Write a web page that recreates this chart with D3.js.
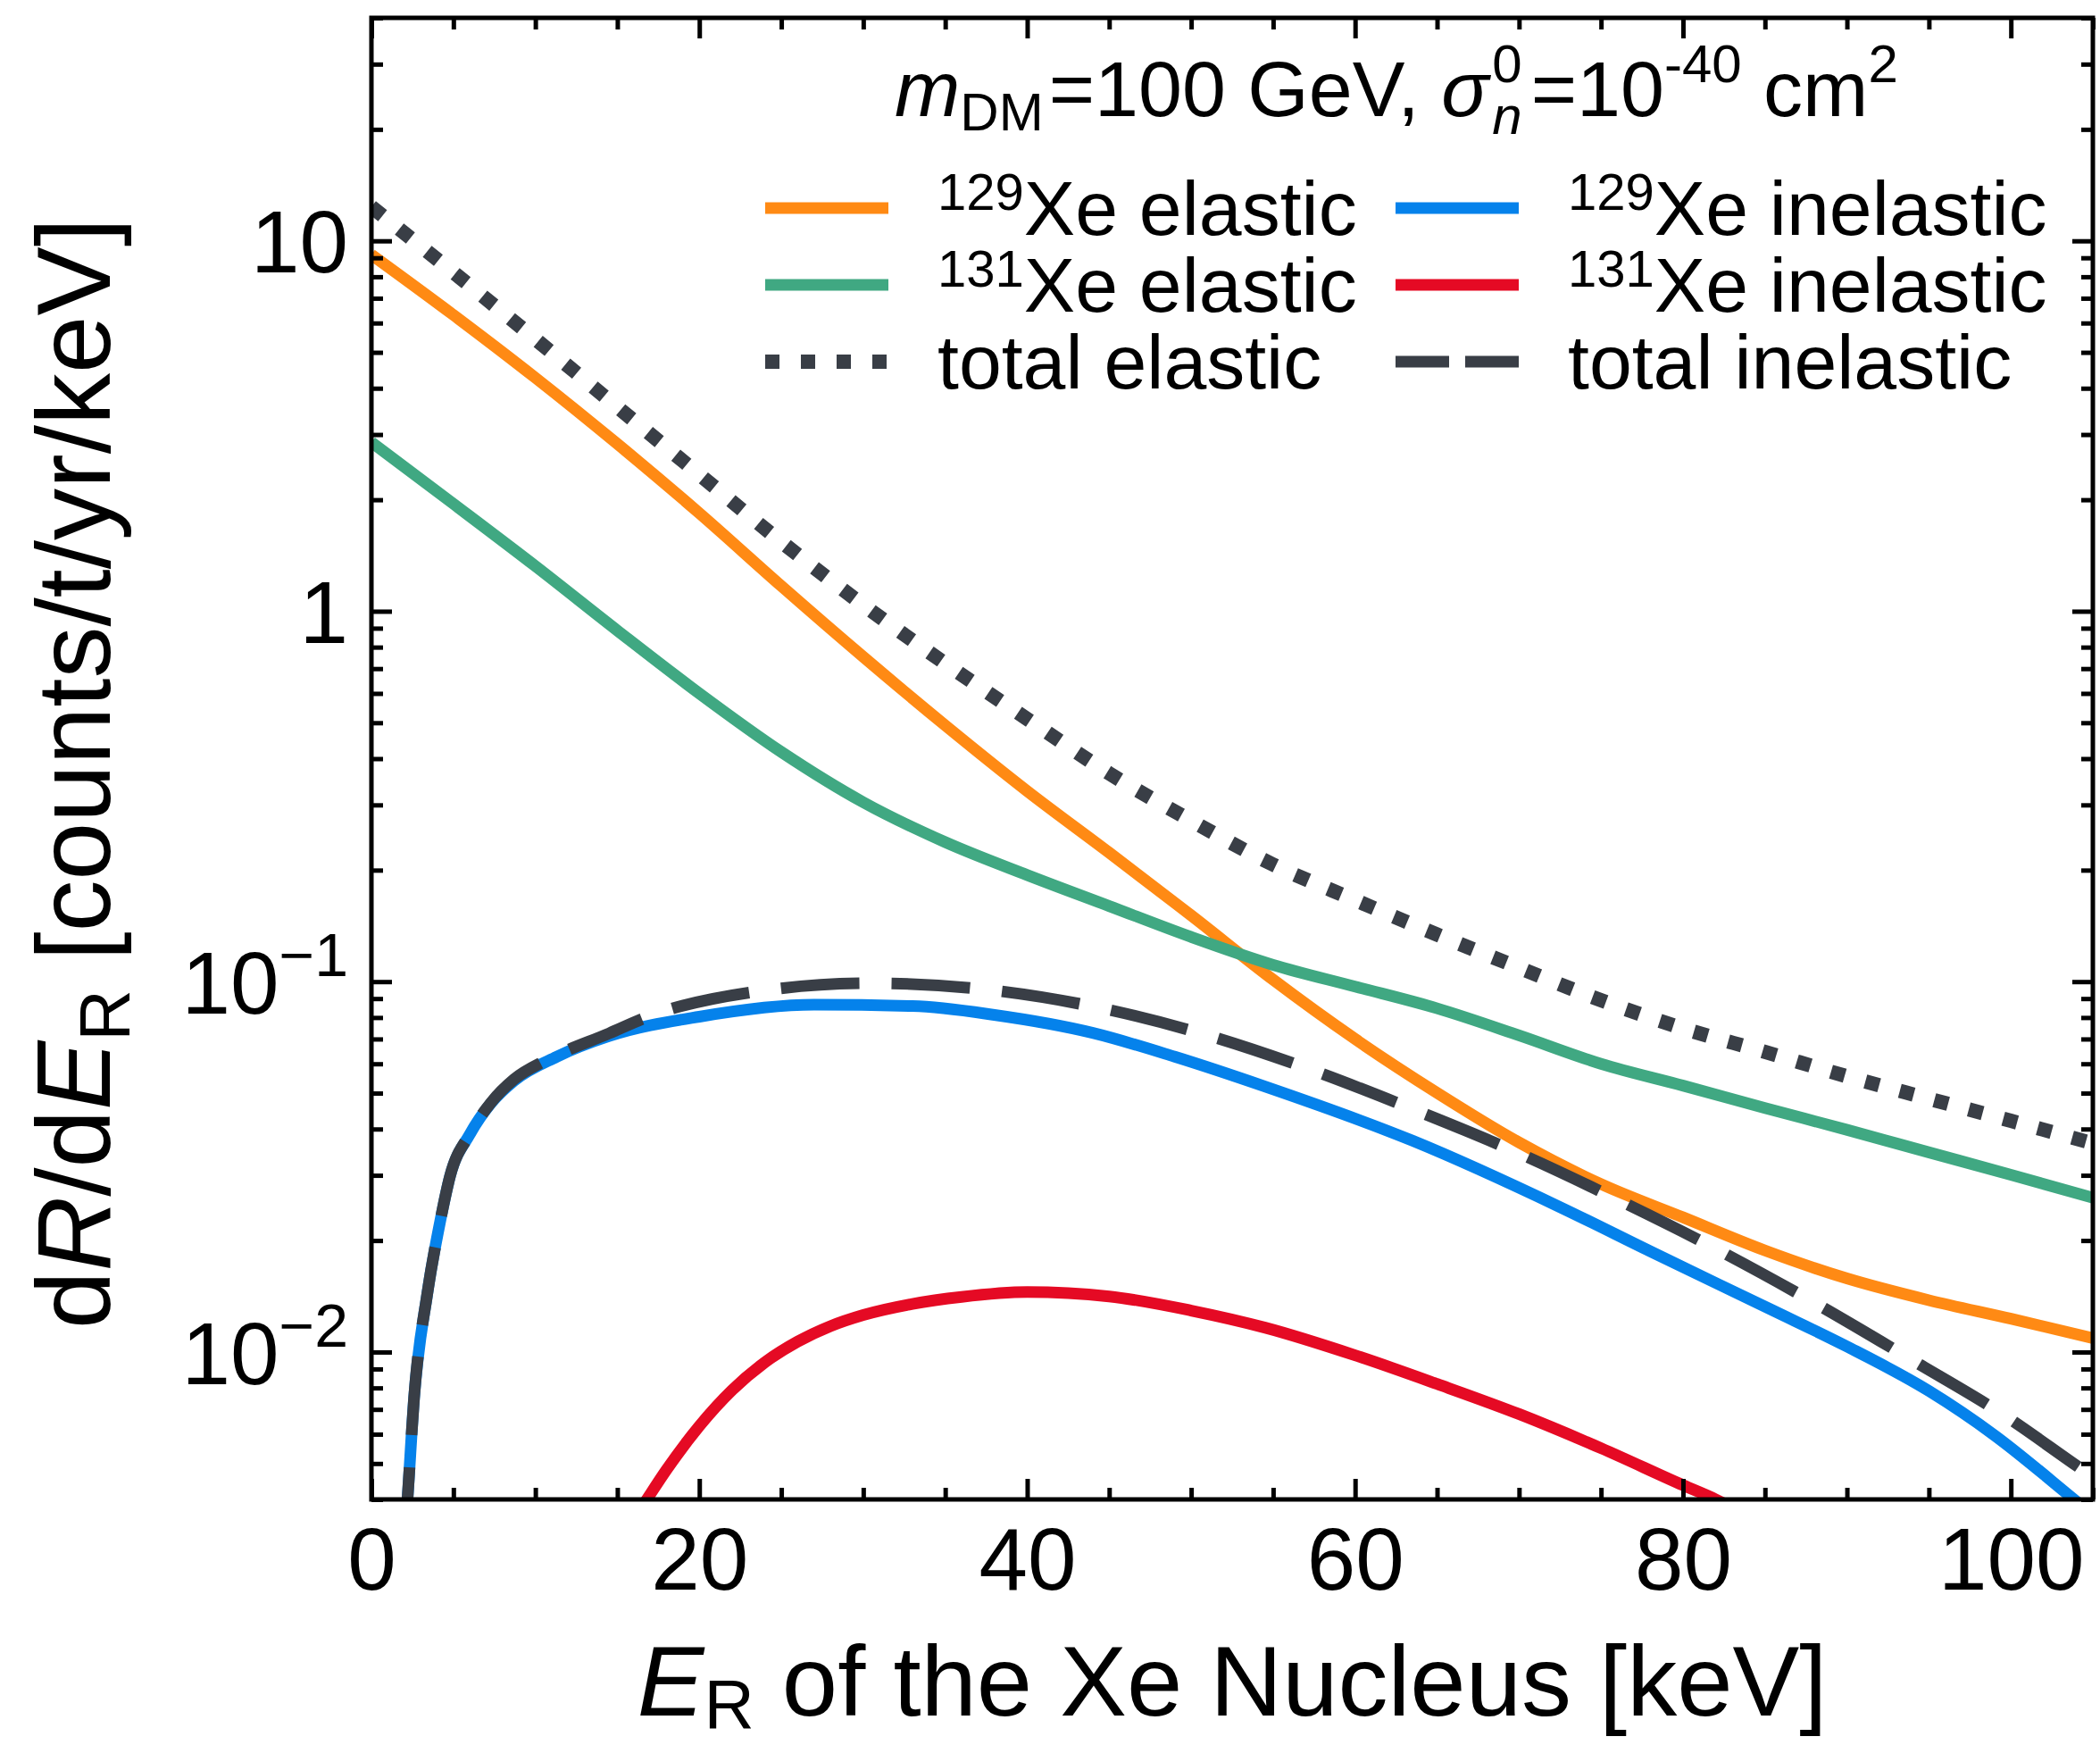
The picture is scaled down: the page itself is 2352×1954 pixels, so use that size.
<!DOCTYPE html>
<html>
<head>
<meta charset="utf-8">
<script src="https://cdn.jsdelivr.net/npm/d3@7"></script>
<style>
  html, body { margin: 0; padding: 0; background: #ffffff; }
  svg text { font-family: "Liberation Sans", Arial, Helvetica, sans-serif; fill: #000; white-space: pre; }
</style>
</head>
<body>
<svg id="chart" width="2352" height="1954"></svg>
<script>
// Recoil energy grid (keV) for the elastic spectra
const energyGrid = [0, 5, 10, 15, 20, 25, 30, 35, 40, 45, 50, 55, 60, 65, 70, 75, 80, 85, 90, 95, 100, 105];

// Elastic differential rates, counts/t/yr/keV
const xe129Elastic = [9.18, 6.31, 4.27, 2.83, 1.84, 1.17, 0.753, 0.492, 0.327, 0.223, 0.151, 0.1012, 0.0700, 0.0501, 0.0368, 0.0284, 0.0231, 0.0188, 0.0158, 0.0138, 0.0123, 0.0109];
const xe131Elastic = [2.86, 1.95, 1.324, 0.887, 0.600, 0.417, 0.305, 0.238, 0.194, 0.160, 0.132, 0.111, 0.0970, 0.0847, 0.0716, 0.0600, 0.0524, 0.0456, 0.0398, 0.0346, 0.0301, 0.0261];
const totalElastic = [12.36, 8.22, 5.43, 3.56, 2.34, 1.54, 1.04, 0.723, 0.512, 0.365, 0.272, 0.207, 0.166, 0.134, 0.109, 0.0891, 0.0748, 0.0646, 0.0555, 0.0483, 0.0421, 0.0366];

// Inelastic spectra, sampled more densely where they rise steeply
const xe129InelasticE = [2.0, 2.2, 2.6, 3.4, 4.2, 4.8, 6.0, 7.3, 8.7, 11.3, 14.5, 20, 27, 33, 38, 44, 49, 54.5, 63.5, 72.6, 78, 85.4, 90, 95, 99, 103.5, 105];
const xe129InelasticRate = [0.0030, 0.0040, 0.0075, 0.0143, 0.0226, 0.0299, 0.0387, 0.0470, 0.0540, 0.0627, 0.0713, 0.0804, 0.0866, 0.0859, 0.0813, 0.0727, 0.0627, 0.0521, 0.0372, 0.0245, 0.0187, 0.0130, 0.01035, 0.00785, 0.00596, 0.00412, 0.00363];

const xe131InelasticE = [16.3, 16.8, 18, 20, 22, 24, 26, 28, 30, 33, 36, 40, 45, 50, 54.5, 60, 65, 70, 75, 80, 82, 84];
const xe131InelasticRate = [0.0037, 0.0040, 0.00481, 0.00631, 0.00789, 0.00938, 0.01067, 0.01175, 0.01259, 0.01349, 0.01409, 0.01452, 0.01413, 0.01294, 0.01164, 0.0098, 0.0082, 0.0068, 0.0055, 0.00437, 0.0040, 0.0036];

const totalInelasticE = [2.0, 2.2, 2.6, 3.4, 4.2, 4.8, 6.0, 7.3, 8.7, 10.7, 14.5, 16.9, 23.6, 30.4, 37.2, 43.9, 50.6, 57, 63.5, 69.8, 76, 82, 88, 94, 99.7, 104.1, 105];
const totalInelasticRate = [0.0030, 0.0040, 0.0075, 0.0143, 0.0226, 0.0299, 0.0388, 0.0472, 0.0545, 0.0615, 0.0725, 0.0805, 0.0942, 0.0990, 0.0955, 0.0859, 0.0725, 0.0585, 0.0453, 0.0347, 0.0258, 0.0190, 0.0136, 0.0095, 0.0067, 0.0049, 0.0046];

// Axis ticks
const xMajorTicks = [0, 20, 40, 60, 80, 100];
const xMinorTicks = [5, 10, 15, 25, 30, 35, 45, 50, 55, 65, 70, 75, 85, 90, 95, 105];
const yMajorTicks = [0.01, 0.1, 1, 10];
const yTickLabels = [["10", "\u22122"], ["10", "\u22121"], ["1", ""], ["10", ""]];

// Series styling
const colors = {
  xe129El: "#ff8a14",
  xe131El: "#40a882",
  xe129In: "#0582eb",
  xe131In: "#e50a24",
  total: "#393e46"
};

const svg = d3.select("#chart");
const plot = { left: 416, right: 2344, top: 20, bottom: 1679 };

const x = d3.scaleLinear().domain([0, 105]).range([plot.left, plot.right]);
const y = d3.scaleLog().domain([0.004, 40]).range([plot.bottom, plot.top]);

// y minor ticks: 2..9 of every decade in the domain
const yMinorTicks = [];
[0.001, 0.01, 0.1, 1, 10].forEach(dec => {
  for (let k = 2; k <= 9; k++) {
    const v = dec * k;
    if (v >= 0.004 && v <= 40) yMinorTicks.push(v);
  }
});

svg.append("defs").append("clipPath").attr("id", "plotClip")
  .append("rect")
  .attr("x", plot.left).attr("y", plot.top)
  .attr("width", plot.right - plot.left).attr("height", plot.bottom - plot.top);

// ---- curves ----
const line = d3.line()
  .x(d => x(d[0]))
  .y(d => y(d[1]))
  .curve(d3.curveMonotoneX);

const zip = (a, b) => a.map((v, i) => [v, b[i]]);

const series = [
  { data: zip(energyGrid, xe129Elastic), color: colors.xe129El, width: 13, dash: null },
  { data: zip(energyGrid, xe131Elastic), color: colors.xe131El, width: 13, dash: null },
  { data: zip(xe129InelasticE, xe129InelasticRate), color: colors.xe129In, width: 13, dash: null },
  { data: zip(xe131InelasticE, xe131InelasticRate), color: colors.xe131In, width: 13, dash: null },
  { data: zip(energyGrid, totalElastic), color: colors.total, width: 16, dash: "16,24" },
  { data: zip(totalInelasticE, totalInelasticRate), color: colors.total, width: 13, dash: "88,36" }
];

const curves = svg.append("g").attr("clip-path", "url(#plotClip)");
series.forEach(s => {
  curves.append("path")
    .datum(s.data)
    .attr("d", line)
    .attr("fill", "none")
    .attr("stroke", s.color)
    .attr("stroke-width", s.width)
    .attr("stroke-dasharray", s.dash)
    .attr("stroke-linecap", "butt")
    .attr("stroke-linejoin", "round");
});

// ---- axes (ticks point inward on all four sides) ----
const majorLen = 23, minorLen = 13, tickW = 5;

function styleTicks(g) {
  g.select(".domain").remove();
  g.selectAll(".tick line").attr("stroke", "#000").attr("stroke-width", tickW);
}

svg.append("g").attr("transform", `translate(0,${plot.bottom})`)
  .call(d3.axisBottom(x).tickValues(xMajorTicks).tickSize(-majorLen).tickPadding(30).tickFormat(d3.format("d")))
  .call(styleTicks)
  .call(g => g.selectAll(".tick text").attr("font-size", 98).attr("fill", "#000").attr("dy", "0.72em"));
svg.append("g").attr("transform", `translate(0,${plot.bottom})`)
  .call(d3.axisBottom(x).tickValues(xMinorTicks).tickSize(-minorLen).tickFormat(""))
  .call(styleTicks);
svg.append("g").attr("transform", `translate(0,${plot.top})`)
  .call(d3.axisTop(x).tickValues(xMajorTicks).tickSize(-majorLen).tickFormat(""))
  .call(styleTicks);
svg.append("g").attr("transform", `translate(0,${plot.top})`)
  .call(d3.axisTop(x).tickValues(xMinorTicks).tickSize(-minorLen).tickFormat(""))
  .call(styleTicks);

const yLeft = svg.append("g").attr("transform", `translate(${plot.left},0)`)
  .call(d3.axisLeft(y).tickValues(yMajorTicks).tickSize(-majorLen).tickPadding(26).tickFormat(""))
  .call(styleTicks);
yLeft.selectAll(".tick text").each(function(d, i) {
  const t = d3.select(this).attr("font-size", 98).attr("fill", "#000").attr("dy", "0.36em");
  const lab = yTickLabels[i];
  t.append("tspan").text(lab[0]);
  if (lab[1]) {
    t.append("tspan").attr("font-size", 68).attr("dy", "-0.62em").text(lab[1]);
  }
});
svg.append("g").attr("transform", `translate(${plot.left},0)`)
  .call(d3.axisLeft(y).tickValues(yMinorTicks).tickSize(-minorLen).tickFormat(""))
  .call(styleTicks);
svg.append("g").attr("transform", `translate(${plot.right},0)`)
  .call(d3.axisRight(y).tickValues(yMajorTicks).tickSize(-majorLen).tickFormat(""))
  .call(styleTicks);
svg.append("g").attr("transform", `translate(${plot.right},0)`)
  .call(d3.axisRight(y).tickValues(yMinorTicks).tickSize(-minorLen).tickFormat(""))
  .call(styleTicks);

// frame
svg.append("rect")
  .attr("x", plot.left).attr("y", plot.top)
  .attr("width", plot.right - plot.left).attr("height", plot.bottom - plot.top)
  .attr("fill", "none").attr("stroke", "#000").attr("stroke-width", 5);

// ---- axis titles ----
const xTitle = svg.append("text")
  .attr("x", 1380).attr("y", 1921)
  .attr("text-anchor", "middle")
  .attr("font-size", 112);
xTitle.append("tspan").attr("font-style", "italic").text("E");
xTitle.append("tspan").attr("font-size", 78).attr("dy", 14).text("R");
xTitle.append("tspan").attr("dy", -14).text(" of the Xe Nucleus [keV]");

const yTitle = svg.append("text")
  .attr("transform", "translate(123,866) rotate(-90)")
  .attr("text-anchor", "middle")
  .attr("font-size", 116);
yTitle.append("tspan").text("d");
yTitle.append("tspan").attr("font-style", "italic").text("R");
yTitle.append("tspan").text("/d");
yTitle.append("tspan").attr("font-style", "italic").text("E");
yTitle.append("tspan").attr("font-size", 80).attr("dy", 22).text("R");
yTitle.append("tspan").attr("dy", -22).text(" [counts/t/yr/keV]");

// ---- rich text: pieces laid out left to right, measured as they go ----
function richText(parent, x0, yBase, size, parts) {
  let cx = x0, lastStart = x0;
  parts.forEach(p => {
    const fs = p.size || size;
    const sx = p.stack ? lastStart : cx + (p.gap || 0);
    const t = parent.append("text")
      .attr("x", sx).attr("y", yBase + (p.shift || 0))
      .attr("font-size", fs)
      .attr("xml:space", "preserve")
      .text(p.text);
    if (p.italic) t.attr("font-style", "italic");
    const w = t.node().getComputedTextLength();
    if (p.stack) { cx = Math.max(cx, sx + w); }
    else { lastStart = sx; cx = sx + w; }
  });
  return cx;
}

// benchmark parameters
const note = svg.append("g");
richText(note, 1002, 130, 88, [
  { text: "m", italic: true },
  { text: "DM", size: 60, shift: 16 },
  { text: "=100 GeV, ", gap: 6 },
  { text: "\u03c3", italic: true },
  { text: "0", size: 60, shift: -38, gap: 4 },
  { text: "n", size: 60, shift: 20, italic: true, stack: true },
  { text: "=10", gap: 10 },
  { text: "-40", size: 60, shift: -38 },
  { text: " cm" },
  { text: "2", size: 60, shift: -38 }
]);

// ---- legend ----
const legendItems = [
  { col: 0, row: 0, iso: "129", label: "Xe elastic", color: colors.xe129El, width: 13, dash: null },
  { col: 0, row: 1, iso: "131", label: "Xe elastic", color: colors.xe131El, width: 13, dash: null },
  { col: 0, row: 2, iso: "", label: "total elastic", color: colors.total, width: 16, dash: "16,24" },
  { col: 1, row: 0, iso: "129", label: "Xe inelastic", color: colors.xe129In, width: 13, dash: null },
  { col: 1, row: 1, iso: "131", label: "Xe inelastic", color: colors.xe131In, width: 13, dash: null },
  { col: 1, row: 2, iso: "", label: "total inelastic", color: colors.total, width: 13, dash: "60,18" }
];
const legendColX = [857, 1563];
const legendRowY = [233, 319, 405];
const legend = svg.append("g");
legendItems.forEach(it => {
  const lx = legendColX[it.col], ly = legendRowY[it.row];
  legend.append("line")
    .attr("x1", lx).attr("x2", lx + 138)
    .attr("y1", ly).attr("y2", ly)
    .attr("stroke", it.color).attr("stroke-width", it.width)
    .attr("stroke-dasharray", it.dash);
  const parts = [];
  if (it.iso) {
    parts.push({ text: it.iso, size: 58, shift: -28 });
  }
  parts.push({ text: it.label });
  richText(legend, lx + 193, ly + 30, 86, parts);
});
</script>
</body>
</html>
